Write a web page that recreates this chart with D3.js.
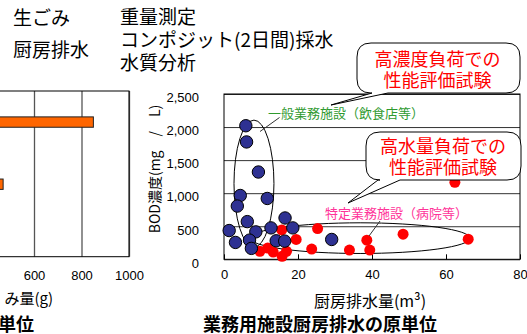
<!DOCTYPE html>
<html>
<head>
<meta charset="utf-8">
<script src="https://cdn.jsdelivr.net/npm/d3@7"></script>
<style>
body { margin: 0; background: #fff; }
svg { display: block; font-family: "Liberation Sans", "Noto Sans CJK JP", sans-serif; }
.jp { font-family: "Noto Sans CJK JP", sans-serif; }
</style>
</head>
<body>
<svg id="chart" width="527" height="334"></svg>
<script>
// left chart (only its right part is inside the crop)
var barSlots = [0, 1, 2, 3, 4, 5, 6, 7];
var barValues = [null, 850, null, null, 470, null, null, null];
var barTicks = [600, 800, 1000];

// right chart: kitchen drain volume vs BOD
var blueX = [5.9, 6.1, 9.3, 4.4, 11.7, 3.6, 6.3, 16.5, 1.4, 8.6, 12.7, 18.6, 3.1, 6.9, 14.1, 16.4, 7.4, 29.1];
var blueY = [2020, 1775, 1320, 965, 920, 805, 570, 625, 435, 415, 475, 475, 255, 290, 280, 275, 165, 300];
var redX = [15.6, 19.5, 25.3, 11.8, 9.7, 13.3, 16.9, 15.7, 23.7, 33.9, 38.6, 39.4, 48.4, 62.4, 66.0];
var redY = [445, 300, 465, 170, 120, 110, 120, 45, 155, 140, 290, 140, 380, 1165, 305];
var xTicks = [0, 20, 40, 60, 80];
var yTicks = [0, 500, 1000, 1500, 2000, 2500];

// group rings [cx, cy, rx, ry] in data units
var blueRing = [8.1, 1145, 5.4, 960];
var redRing = [36.8, 320, 29.7, 232];

var svg = d3.select("#chart");

// ---------- left chart ----------
var lx = d3.scaleLinear().domain([0, 1000]).range([-108.5, 129]);
var ly = d3.scaleBand().domain(barSlots).range([91, 256.7]).paddingInner(0.5).paddingOuter(0.25);

var lgrid = svg.append("g")
	.attr("transform", "translate(0,256.7)")
	.call(d3.axisBottom(lx).tickValues(barTicks).tickSize(-165.7).tickPadding(13.7).tickFormat(d3.format("d")));
lgrid.select(".domain").remove();
lgrid.selectAll("line").attr("stroke", "#555").attr("stroke-width", 1.3);
lgrid.selectAll("text").attr("fill", "#000").style("font-size", "13px");

svg.append("rect")
	.attr("x", lx(0)).attr("y", 91)
	.attr("width", lx(1000) - lx(0)).attr("height", 165.7)
	.attr("fill", "none").attr("stroke", "#000");

svg.selectAll("rect.bar")
	.data(barSlots.filter(function(i){ return barValues[i] != null; }))
	.enter().append("rect")
	.attr("class", "bar")
	.attr("x", lx(0))
	.attr("y", function(i){ return ly(i); })
	.attr("width", function(i){ return lx(barValues[i]) - lx(0); })
	.attr("height", ly.bandwidth())
	.attr("fill", "#ff6600")
	.attr("stroke", "#222");

svg.append("text").attr("class", "jp")
	.attr("x", 53).attr("y", 304).attr("text-anchor", "end")
	.style("font-size", "15px").text("み量(g)");
svg.append("text").attr("class", "jp")
	.attr("x", 34).attr("y", 330.5).attr("text-anchor", "end")
	.style("font-size", "18px").style("font-weight", "bold").text("単位");

// ---------- right chart ----------
var x = d3.scaleLinear().domain([0, 80]).range([224, 520]);
var y = d3.scaleLinear().domain([0, 2500]).range([259.3, 94]);

var ygrid = svg.append("g")
	.attr("transform", "translate(224,0)")
	.call(d3.axisLeft(y).tickValues(yTicks).tickSize(-296).tickPadding(25).tickFormat(d3.format(",")));
ygrid.select(".domain").remove();
ygrid.selectAll("line").attr("stroke", "#333");
ygrid.selectAll("text").attr("fill", "#000").attr("dy", "0.6em").style("font-size", "13px");

var xax = svg.append("g")
	.attr("transform", "translate(0,259.3)")
	.call(d3.axisBottom(x).tickValues(xTicks).tickSize(-5).tickPadding(10).tickFormat(d3.format("d")));
xax.select(".domain").remove();
xax.selectAll("line").attr("stroke", "#000");
xax.selectAll("text").attr("fill", "#000").style("font-size", "13px");

svg.append("rect")
	.attr("x", x(0)).attr("y", y(2500))
	.attr("width", x(80) - x(0)).attr("height", y(0) - y(2500))
	.attr("fill", "none").attr("stroke", "#000");

[blueRing, redRing].forEach(function(r){
	svg.append("ellipse")
		.attr("cx", x(r[0])).attr("cy", y(r[1]))
		.attr("rx", x(r[2]) - x(0)).attr("ry", y(0) - y(r[3]))
		.attr("fill", "none").attr("stroke", "#000").attr("stroke-width", 1);
});

svg.selectAll("circle.red")
	.data(redX).enter().append("circle")
	.attr("class", "red")
	.attr("cx", function(d){ return x(d); })
	.attr("cy", function(d, i){ return y(redY[i]); })
	.attr("r", 5.5)
	.attr("fill", "#ff0000");

svg.selectAll("circle.blue")
	.data(blueX).enter().append("circle")
	.attr("class", "blue")
	.attr("cx", function(d){ return x(d); })
	.attr("cy", function(d, i){ return y(blueY[i]); })
	.attr("r", 6.2)
	.attr("fill", "#2e3192")
	.attr("stroke", "#000");

// leader lines + group labels
svg.append("line").attr("x1", 279.5).attr("y1", 117.5).attr("x2", 260).attr("y2", 131.5).attr("stroke", "#333");
svg.append("line").attr("x1", 380).attr("y1", 221).attr("x2", 369).attr("y2", 236).attr("stroke", "#333");

svg.append("text").attr("class", "jp")
	.attr("x", 268).attr("y", 117.5)
	.attr("fill", "#2f9a2f").style("font-size", "13px")
	.text("一般業務施設（飲食店等）");
svg.append("text").attr("class", "jp")
	.attr("x", 325).attr("y", 217.5)
	.attr("fill", "#ff3399").style("font-size", "13px")
	.text("特定業務施設（病院等）");

// callouts
function callout(x0, y0, w, h, r, b1, b2, tx, ty){
	return "M" + (x0 + r) + "," + y0 +
		"H" + (x0 + w - r) + "Q" + (x0 + w) + "," + y0 + " " + (x0 + w) + "," + (y0 + r) +
		"V" + (y0 + h - r) + "Q" + (x0 + w) + "," + (y0 + h) + " " + (x0 + w - r) + "," + (y0 + h) +
		"H" + b2 + "L" + tx + "," + ty + "L" + b1 + "," + (y0 + h) +
		"H" + (x0 + r) + "Q" + x0 + "," + (y0 + h) + " " + x0 + "," + (y0 + h - r) +
		"V" + (y0 + r) + "Q" + x0 + "," + y0 + " " + (x0 + r) + "," + y0 + "Z";
}
svg.append("path").attr("d", callout(357, 43, 163, 50, 14, 372, 388, 331, 105))
	.attr("fill", "#fff").attr("stroke", "#000");
svg.append("path").attr("d", callout(366, 132, 155, 48, 14, 378, 400, 348, 203))
	.attr("fill", "#fff").attr("stroke", "#000");

var callText = [
	[437.5, 66, "高濃度負荷での"], [437.5, 87, "性能評価試験"],
	[443, 153, "高水量負荷での"], [443, 174, "性能評価試験"]
];
callText.forEach(function(t){
	svg.append("text").attr("class", "jp")
		.attr("x", t[0]).attr("y", t[1]).attr("text-anchor", "middle")
		.attr("fill", "#ff0000").style("font-size", "18px").text(t[2]);
});

// axis titles
svg.append("text").attr("class", "jp")
	.attr("transform", "translate(159.5,169) rotate(-90)")
	.attr("text-anchor", "middle").style("font-size", "14px")
	.text("BOD濃度(mg　/　L)");
svg.append("text").attr("class", "jp")
	.attr("x", 370).attr("y", 307).attr("text-anchor", "middle")
	.style("font-size", "16px").text("厨房排水量(m³)");
svg.append("text").attr("class", "jp")
	.attr("x", 203).attr("y", 330.5)
	.style("font-size", "18px").style("font-weight", "bold")
	.text("業務用施設厨房排水の原単位");

// header texts
var header = [
	[13, 25, "生ごみ"], [13, 57, "厨房排水"],
	[120, 24, "重量測定"], [120, 47, "コンポジット(2日間)採水"], [120, 70, "水質分析"]
];
header.forEach(function(t){
	svg.append("text").attr("class", "jp")
		.attr("x", t[0]).attr("y", t[1])
		.style("font-size", "19px").text(t[2]);
});
</script>
</body>
</html>
